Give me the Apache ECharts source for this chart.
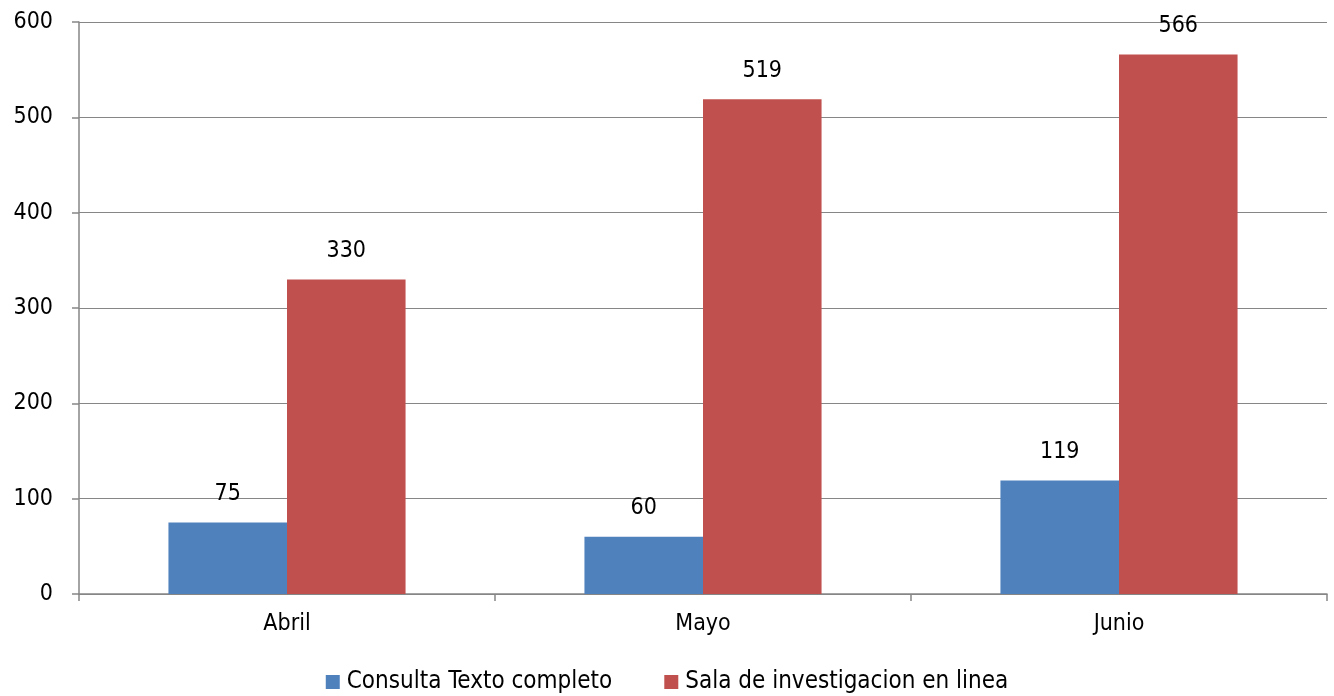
<!DOCTYPE html>
<html><head><meta charset="utf-8">
<script src="https://cdn.jsdelivr.net/npm/echarts@6/dist/echarts.min.js"></script>
<style>html,body{margin:0;padding:0;background:#fff}#c{width:1334px;height:696px}</style>
</head><body><div id="c"></div>
<script>
const categories = ['Abril', 'Mayo', 'Junio'];
const seriesNames = ['Consulta Texto completo', 'Sala de investigacion en linea'];
const consulta = [75, 60, 119];
const sala = [330, 519, 566];
const yTicks = [0, 100, 200, 300, 400, 500, 600];

const FONT = '"DejaVu Sans Condensed", Lato, sans-serif';
const FS = 23;
const chart = echarts.init(document.getElementById('c'));
const axisGray = '#868686';
const lbl = {show: true, position: 'top', distance: 17, color: '#000', fontSize: FS, fontFamily: FONT};
chart.setOption({
  animation: false,
  textStyle: {fontFamily: FONT},
  grid: {left: 79, right: 7, top: 22, bottom: 102, containLabel: false},
  legend: {
    top: 665, left: 'center', itemWidth: 14, itemHeight: 14, itemGap: 52,
    icon: 'rect',
    textStyle: {fontSize: 24, color: '#000', fontFamily: FONT, padding: [0, 0, 0, 2]},
    data: seriesNames
  },
  xAxis: {
    type: 'category', data: categories,
    axisLine: {lineStyle: {color: axisGray, width: 1.5}},
    axisTick: {show: true, length: 7, lineStyle: {color: axisGray, width: 1.5}},
    axisLabel: {fontSize: FS, color: '#000', margin: 19, fontFamily: FONT}
  },
  yAxis: {
    type: 'value', min: yTicks[0], max: yTicks[yTicks.length - 1], interval: 100,
    axisLine: {show: true, lineStyle: {color: axisGray, width: 1.5}},
    axisTick: {show: true, length: 7, lineStyle: {color: axisGray, width: 1.5}},
    axisLabel: {fontSize: FS, color: '#000', margin: 26, fontFamily: FONT},
    splitLine: {lineStyle: {color: axisGray, width: 1.2}}
  },
  series: [
    {name: seriesNames[0], type: 'bar', data: consulta, itemStyle: {color: '#4F81BD'},
     barGap: '0%', barCategoryGap: '43%', label: lbl},
    {name: seriesNames[1], type: 'bar', data: sala, itemStyle: {color: '#C0504D'},
     barGap: '0%', barCategoryGap: '43%', label: lbl}
  ]
});
</script></body></html>
